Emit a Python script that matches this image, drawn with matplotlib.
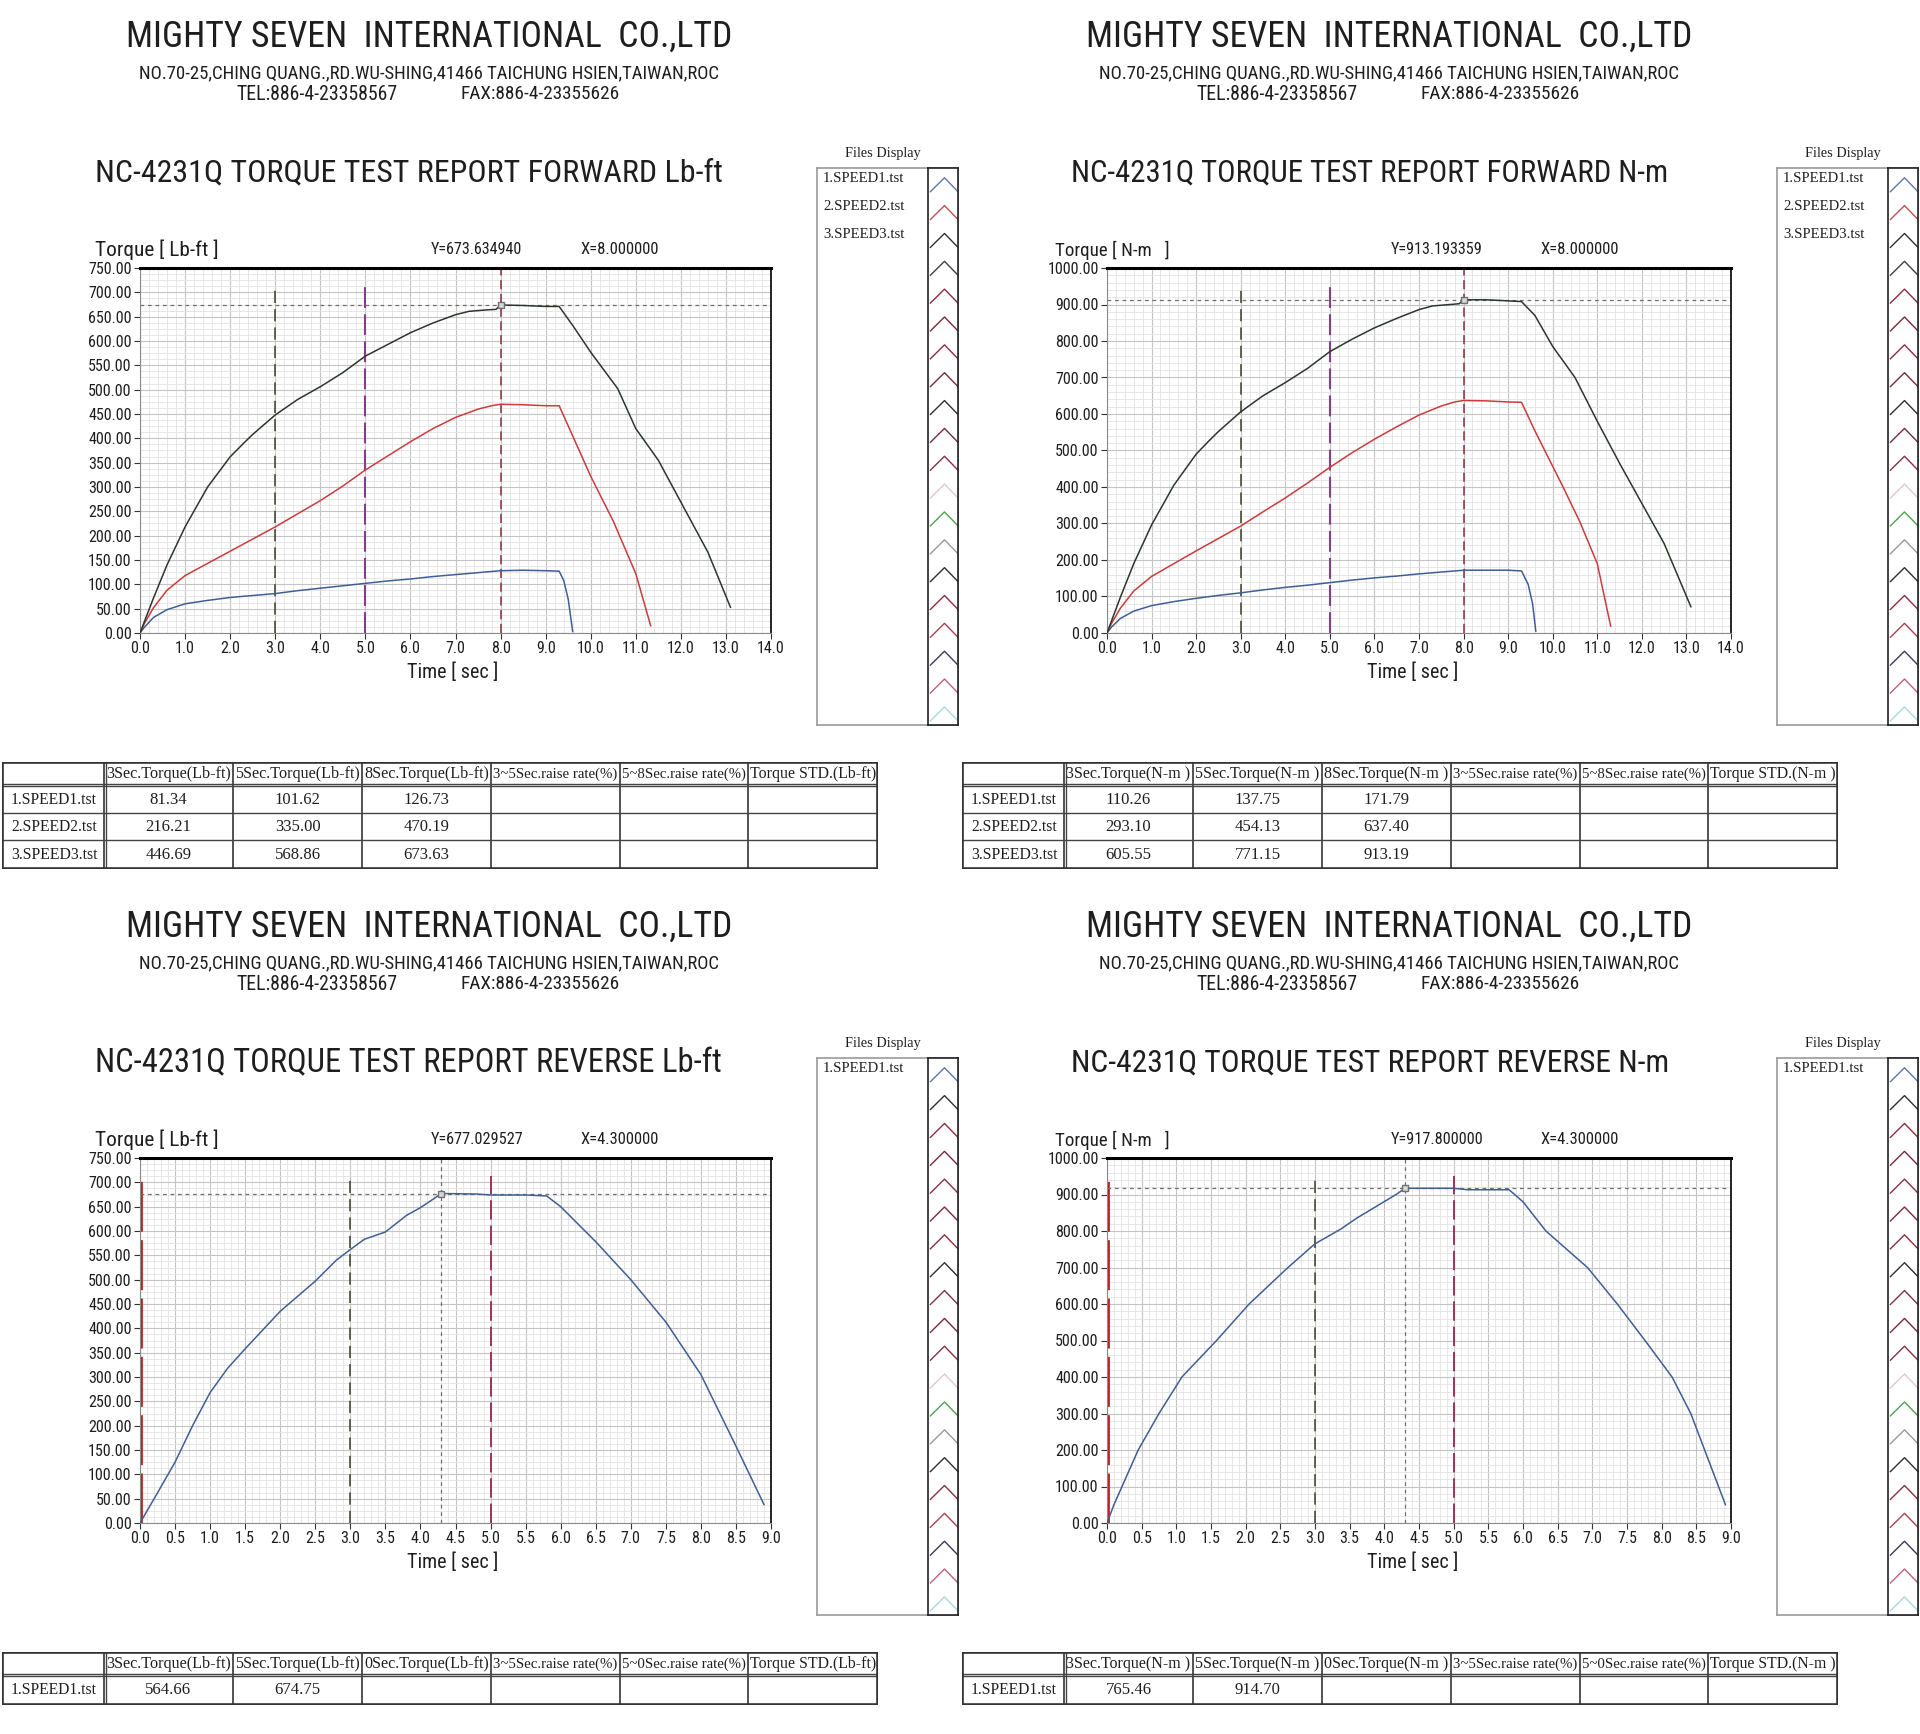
import numpy as np
import matplotlib
matplotlib.use("Agg")
import matplotlib.pyplot as plt
from matplotlib import font_manager
from matplotlib.ticker import AutoMinorLocator, FormatStrFormatter, MultipleLocator

# ---- data ---------------------------------------------------------------
# forward, Lb-ft
fwd_lb_s1_t = [0, 0.1, 0.3, 0.6, 1.0, 1.5, 2.0, 2.5, 3.0, 3.5, 4.0, 4.5, 5.0, 5.5, 6.0,
               6.5, 7.0, 7.5, 8.0, 8.5, 9.0, 9.3, 9.4, 9.5, 9.6]
fwd_lb_s1_v = [0, 12, 32, 48, 60, 67, 73, 77, 81, 87, 92, 97, 102, 107, 111,
               116, 120, 124, 128, 129, 128, 127, 108, 70, 3]
fwd_lb_s2_t = [0, 0.1, 0.3, 0.6, 1.0, 1.5, 2.0, 2.5, 3.0, 3.5, 4.0, 4.5, 5.0, 5.5, 6.0, 6.5,
               7.0, 7.5, 7.8, 8.0, 8.5, 9.0, 9.3, 9.6, 10.0, 10.5, 11.0, 11.33]
fwd_lb_s2_v = [0, 20, 52, 88, 118, 143, 168, 193, 218, 245, 272, 302, 335, 364, 393, 420,
               443, 460, 467, 470, 469, 467, 467, 405, 322, 230, 122, 15]
fwd_lb_s3_t = [0, 0.3, 0.6, 1.0, 1.5, 2.0, 2.3, 2.5, 3.0, 3.5, 4.0, 4.5, 5.0, 5.5, 6.0, 6.5,
               7.0, 7.3, 7.7, 7.9, 8.0, 8.5, 9.0, 9.3, 9.6, 10.0, 10.6, 11.0, 11.5, 12.0,
               12.6, 13.1]
fwd_lb_s3_v = [0, 72, 140, 218, 300, 362, 390, 408, 448, 480, 506, 535, 569, 593, 617, 637,
               654, 661, 664, 665, 674, 673, 671, 671, 632, 577, 502, 420, 355, 269, 166, 53]

# forward, N-m
fwd_nm_s1_t = [0, 0.1, 0.3, 0.6, 1.0, 1.5, 2.0, 2.5, 3.0, 3.5, 4.0, 4.5, 5.0, 5.5, 6.0,
               6.5, 7.0, 7.5, 8.0, 8.5, 9.0, 9.3, 9.45, 9.55, 9.62]
fwd_nm_s1_v = [0, 16, 40, 60, 75, 86, 95, 103, 110, 118, 125, 131, 138, 145, 151,
               156, 162, 167, 172, 172, 172, 170, 133, 79, 5]
fwd_nm_s2_t = [0, 0.1, 0.3, 0.6, 1.0, 1.5, 2.0, 2.5, 3.0, 3.5, 4.0, 4.5, 5.0, 5.5, 6.0, 6.5,
               7.0, 7.5, 7.8, 8.0, 8.5, 9.0, 9.3, 9.6, 9.9, 10.2, 10.6, 11.0, 11.3]
fwd_nm_s2_v = [0, 26, 68, 115, 155, 190, 225, 259, 293, 332, 370, 411, 454, 494, 531, 565,
               597, 622, 633, 637, 636, 633, 632, 554, 481, 408, 307, 190, 19]
fwd_nm_s3_t = [0, 0.3, 0.6, 1.0, 1.5, 2.0, 2.3, 2.5, 3.0, 3.5, 4.0, 4.5, 5.0, 5.5, 6.0, 6.5,
               7.0, 7.3, 7.7, 7.9, 8.0, 8.5, 9.0, 9.3, 9.6, 10.0, 10.5, 11.0, 11.5, 12.0,
               12.5, 13.1]
fwd_nm_s3_v = [0, 98, 190, 296, 405, 490, 528, 552, 606, 650, 686, 725, 771, 805, 836, 862,
               886, 896, 900, 902, 913, 913, 910, 908, 870, 785, 700, 580, 465, 355, 245, 72]

# reverse
rev_lb_t = [0, 0.25, 0.5, 0.75, 1.0, 1.25, 1.5, 2.0, 2.5, 2.8, 3.0, 3.2, 3.5, 3.8, 4.0,
            4.3, 4.8, 5.0, 5.5, 5.8, 6.0, 6.5, 7.0, 7.5, 8.0, 8.5, 8.9]
rev_lb_v = [0, 62, 125, 200, 268, 318, 358, 435, 497, 540, 562, 583, 598, 632, 648,
            677, 676, 674, 674, 672, 650, 578, 500, 413, 305, 158, 38]
rev_nm_t = [0, 0.1, 0.45, 0.75, 1.08, 1.58, 2.05, 2.61, 3.0, 3.37, 3.6, 4.17, 4.3, 5.0,
            5.2, 5.8, 6.0, 6.33, 6.93, 7.36, 7.76, 8.15, 8.42, 8.62, 8.92]
rev_nm_v = [0, 50, 200, 300, 400, 500, 600, 700, 765, 805, 835, 900, 917, 917,
            913, 913, 880, 800, 700, 600, 500, 400, 300, 200, 50]

files = ["1.SPEED1.tst", "2.SPEED2.tst", "3.SPEED3.tst"]
fwd_lb_table = [["81.34", "101.62", "126.73"], ["216.21", "335.00", "470.19"], ["446.69", "568.86", "673.63"]]
fwd_nm_table = [["110.26", "137.75", "171.79"], ["293.10", "454.13", "637.40"], ["605.55", "771.15", "913.19"]]
rev_lb_table = [["564.66", "674.75", ""]]
rev_nm_table = [["765.46", "914.70", ""]]

company = "MIGHTY SEVEN  INTERNATIONAL  CO.,LTD"
address = "NO.70-25,CHING QUANG.,RD.WU-SHING,41466 TAICHUNG HSIEN,TAIWAN,ROC"
tel = "TEL:886-4-23358567"
fax = "FAX:886-4-23355626"

chev_top = ["#5a78a8", "#c05050", "#303030", "#404040", "#8a2f3f", "#7a2a3a", "#8a2f3f",
            "#7a2a3a", "#303030", "#7a2a3a", "#8a2f3f", "#e4c8d0", "#50a050", "#9a9a9a",
            "#303030", "#8a2f3f", "#b04050", "#3a3a5a", "#c06080", "#a8dcdc"]
chev_bot = ["#5a78a8", "#303030", "#8a2f3f", "#7a2a3a", "#8a2f3f", "#7a2a3a", "#8a2f3f",
            "#303030", "#8a2f3f", "#7a2a3a", "#8a2f3f", "#e4c8d0", "#50a050", "#9a9a9a",
            "#303030", "#8a2f3f", "#b04050", "#3a3a5a", "#c06080", "#a8dcdc"]

C1, C2, C3 = "#3f5f94", "#cc3b3b", "#2e352e"

# ---- fonts ----------------------------------------------------------------
W, H = 1920, 1734
ttf = font_manager.fontManager.ttflist
names = {f.name for f in ttf}
STRETCH = "normal"
NARROW = ["DejaVu Sans"]
for cand in ["Liberation Sans Narrow", "Roboto Condensed", "Open Sans Condensed"]:
    if cand in names:
        NARROW = [cand, "DejaVu Sans"]
        break
else:
    if any(f.name == "DejaVu Sans" and "condensed" in str(f.stretch) for f in ttf):
        STRETCH = "condensed"
SERIF = ["Liberation Serif", "DejaVu Serif"]
INK = "#1e1e1e"

fig = plt.figure(figsize=(W / 100, H / 100), dpi=100)
fig.patch.set_facecolor("white")
renderer = fig.canvas.get_renderer()


def px_ax(x0, y0, x1, y1):
    return fig.add_axes([x0 / W, 1 - y1 / H, (x1 - x0) / W, (y1 - y0) / H])


def fit(t, width):
    w = t.get_window_extent(renderer=renderer).width
    t.set_fontsize(t.get_fontsize() * width / w)


def put(x, y, s, size=10, family=None, ha="left", width=None):
    if family is None:
        t = fig.text(x / W, 1 - y / H, s, fontsize=size, family=NARROW, stretch=STRETCH,
                     ha=ha, va="center", color=INK)
    else:
        t = fig.text(x / W, 1 - y / H, s, fontsize=size, family=family,
                     ha=ha, va="center", color=INK)
    if width:
        fit(t, width)
    return t


def draw_panel(p):
    dx, dy = p["dx"], p["dy"]
    unit = p["unit"]

    # letterhead
    put(dx + 429, dy + 37, company, 26, ha="center", width=606)
    put(dx + 429, dy + 73, address, 11, ha="center", width=582)
    put(dx + 236, dy + 94, tel, 11, width=162)
    put(dx + 460, dy + 94, fax, 11, width=161)
    put(dx + p["title_x"], dy + 173, p["title"], 22, width=p["title_w"])

    # readout line
    put(dx + 95, dy + 250, "Torque [ %s ]" % ("Lb-ft" if unit == "Lb-ft" else "N-m  "), 10,
        width=123 if unit == "Lb-ft" else 114)
    put(dx + 431, dy + 250, p["ytxt"], 10, width=92)
    put(dx + 580, dy + 250, p["xtxt"], 10, width=78)
    put(dx + 453, dy + 672, "Time [ sec ]", 10, ha="center", width=90)

    # chart
    ax = px_ax(dx + p["ax_left"], dy + 268, dx + 771, dy + 633)
    for t, v, c in p["series"]:
        ax.plot(t, v, color=c, lw=1.1, zorder=3)
    ax.set_xlim(0, p["xmax"])
    ax.set_ylim(0, p["ymax"])
    ax.xaxis.set_major_locator(MultipleLocator(p["xstep"]))
    ax.xaxis.set_minor_locator(AutoMinorLocator(5))
    ax.yaxis.set_major_locator(MultipleLocator(p["ystep"]))
    ax.yaxis.set_minor_locator(AutoMinorLocator(p["yminor"]))
    ax.xaxis.set_major_formatter(FormatStrFormatter("%.1f"))
    ax.yaxis.set_major_formatter(FormatStrFormatter("%.2f"))
    ax.grid(which="major", color="#c4c4c4", lw=0.8)
    ax.grid(which="minor", color="#e3e3e3", lw=0.6)
    ax.set_axisbelow(True)
    ax.tick_params(which="minor", length=0)
    ax.tick_params(which="major", length=4, color="#333", pad=2, labelsize=11.5, labelcolor=INK)
    for lab in ax.get_xticklabels() + ax.get_yticklabels():
        lab.set_family(NARROW)
        lab.set_stretch(STRETCH)
    ax.spines["top"].set_linewidth(2.2)
    ax.spines["top"].set_color("black")
    ax.spines["right"].set_linewidth(1.2)
    ax.spines["right"].set_color("black")
    for s in ("left", "bottom"):
        ax.spines[s].set_color("#8a8a8a")
        ax.spines[s].set_linewidth(0.8)

    for x, c, frac, ls, lw in p["vlines"]:
        ax.axvline(x, ymin=0, ymax=frac, color=c, ls=ls, lw=lw, zorder=2)
    cx, cy = p["cursor"]
    ax.axhline(cy, color="#6e6e6e", ls=(0, (3, 3)), lw=0.9, zorder=2)
    ax.plot([cx], [cy], "s", ms=5, mfc="#d8d8d8", mec="#707070", mew=1, zorder=4)

    # files display box
    put(dx + 883, dy + 153, "Files Display", 10, family=SERIF, ha="center", width=76)
    box = px_ax(dx + 817, dy + 168, dx + 958, dy + 725)
    box.set_xticks([])
    box.set_yticks([])
    for s in box.spines.values():
        s.set_color("#9a9a9a")
        s.set_linewidth(1.2)
    for i, name in enumerate(p["files"]):
        put(dx + 823, dy + 178 + 28 * i, name, 10, family=SERIF, width=81)
    chev = px_ax(dx + 928, dy + 168, dx + 958, dy + 725)
    chev.set_xlim(0, 1)
    chev.set_ylim(20, 0)
    chev.set_xticks([])
    chev.set_yticks([])
    for s in chev.spines.values():
        s.set_color("#222")
        s.set_linewidth(1.2)
    for i, c in enumerate(p["chev"]):
        chev.plot([0.08, 0.55, 1.0], [i + 0.85, i + 0.35, i + 0.85], color=c, lw=1.0)

    # summary table
    rows = p["rows"]
    th = 24 + 27 * len(rows) + 2
    tab = px_ax(dx + 2, dy + 762, dx + 878, dy + 762 + th)
    tab.set_xlim(0, 876)
    tab.set_ylim(th, 0)
    tab.axis("off")
    cols = [0, 102, 231, 360, 489, 618, 746, 876]
    yedges = [0, 24] + [24 + 27 * (k + 1) for k in range(len(rows))]
    yedges[-1] = th
    for y in yedges[1:-1]:
        tab.plot([0, 876], [y, y], color="#444", lw=1.0)
    tab.plot([0, 876], [22, 22], color="#444", lw=1.0)
    for x in cols[1:-1]:
        tab.plot([x, x], [0, th], color="#444", lw=1.3)
    tab.plot([104, 104], [0, th], color="#444", lw=1.0)
    tab.plot([0, 876, 876, 0, 0], [0, 0, th, th, 0], color="#333", lw=2.6)
    for k, head in enumerate(p["headers"]):
        if head:
            t = tab.text((cols[k] + cols[k + 1]) / 2, 12, head, ha="center", va="center",
                         family=SERIF, fontsize=10, color=INK)
            fit(t, cols[k + 1] - cols[k] - 5)
    for r, vals in enumerate(rows):
        yc = (yedges[r + 1] + yedges[r + 2]) / 2
        t = tab.text(52, yc, p["files"][r], ha="center", va="center", family=SERIF,
                     fontsize=10, color=INK)
        fit(t, 86)
        for k, v in enumerate(vals):
            tab.text((cols[k + 1] + cols[k + 2]) / 2, yc, v, ha="center", va="center",
                     family=SERIF, fontsize=12, color=INK)


def headers(unit, last):
    u = "Lb-ft" if unit == "Lb-ft" else "N-m "
    return ["", "3Sec.Torque(%s)" % u, "5Sec.Torque(%s)" % u, "%dSec.Torque(%s)" % (last, u),
            "3~5Sec.raise rate(%)", "5~%dSec.raise rate(%%)" % last, "Torque STD.(%s)" % u]


fwd_vlines = [(3, "#3d3d2a", 0.95, (0, (8, 4)), 1.1),
              (5, "#8a3c8a", 0.95, (0, (10, 3)), 1.5),
              (8, "#8b2c3c", 1.0, (0, (6, 3)), 1.1)]
rev_vlines = [(0.02, "#c02020", 0.95, (0, (18, 3)), 2.0),
              (3, "#3d3d2a", 0.95, (0, (8, 4)), 1.1),
              (5, "#99335f", 0.95, (0, (10, 3)), 1.4),
              (4.3, "#6e6e6e", 1.0, (0, (3, 3)), 0.9)]

panels = [
    dict(dx=0, dy=0, unit="Lb-ft", title="NC-4231Q TORQUE TEST REPORT FORWARD Lb-ft",
         title_x=95, title_w=625, ytxt="Y=673.634940", xtxt="X=8.000000", ax_left=140,
         xmax=14, xstep=1.0, ymax=750, ystep=50, yminor=4,
         series=[(fwd_lb_s1_t, fwd_lb_s1_v, C1), (fwd_lb_s2_t, fwd_lb_s2_v, C2),
                 (fwd_lb_s3_t, fwd_lb_s3_v, C3)],
         vlines=fwd_vlines, cursor=(8.0, 673.63), files=files, chev=chev_top,
         headers=headers("Lb-ft", 8), rows=fwd_lb_table),
    dict(dx=960, dy=0, unit="N-m", title="NC-4231Q TORQUE TEST REPORT FORWARD N-m",
         title_x=111, title_w=597, ytxt="Y=913.193359", xtxt="X=8.000000", ax_left=147,
         xmax=14, xstep=1.0, ymax=1000, ystep=100, yminor=5,
         series=[(fwd_nm_s1_t, fwd_nm_s1_v, C1), (fwd_nm_s2_t, fwd_nm_s2_v, C2),
                 (fwd_nm_s3_t, fwd_nm_s3_v, C3)],
         vlines=fwd_vlines, cursor=(8.0, 913.19), files=files, chev=chev_top,
         headers=headers("N-m", 8), rows=fwd_nm_table),
    dict(dx=0, dy=890, unit="Lb-ft", title="NC-4231Q TORQUE TEST REPORT REVERSE Lb-ft",
         title_x=95, title_w=625, ytxt="Y=677.029527", xtxt="X=4.300000", ax_left=140,
         xmax=9, xstep=0.5, ymax=750, ystep=50, yminor=4,
         series=[(rev_lb_t, rev_lb_v, C1)],
         vlines=rev_vlines, cursor=(4.3, 677.03), files=files[:1], chev=chev_bot,
         headers=headers("Lb-ft", 0), rows=rev_lb_table),
    dict(dx=960, dy=890, unit="N-m", title="NC-4231Q TORQUE TEST REPORT REVERSE N-m",
         title_x=111, title_w=597, ytxt="Y=917.800000", xtxt="X=4.300000", ax_left=147,
         xmax=9, xstep=0.5, ymax=1000, ystep=100, yminor=5,
         series=[(rev_nm_t, rev_nm_v, C1)],
         vlines=rev_vlines, cursor=(4.3, 917.8), files=files[:1], chev=chev_bot,
         headers=headers("N-m", 0), rows=rev_nm_table),
]

for p in panels:
    draw_panel(p)

fig.savefig("out.png", dpi=100, facecolor="white")
